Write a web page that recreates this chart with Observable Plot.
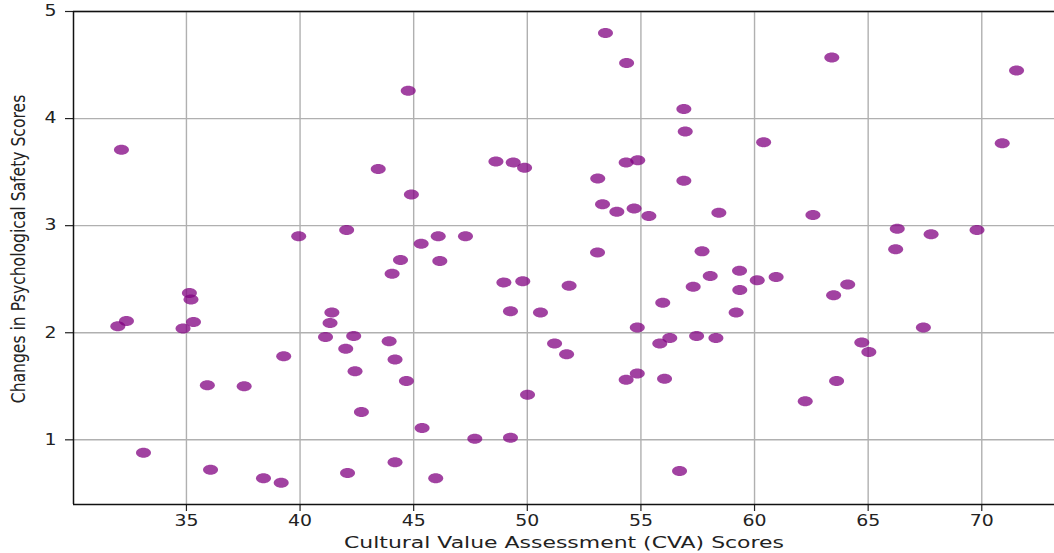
<!DOCTYPE html>
<html>
<head>
<meta charset="utf-8">
<script src="https://cdn.jsdelivr.net/npm/d3@7"></script>
<script src="https://cdn.jsdelivr.net/npm/@observablehq/plot@0.6"></script>
<style>
  html, body { margin: 0; padding: 0; background: #fff; }
  #chart { width: 1054px; height: 553px; overflow: hidden; }
</style>
</head>
<body>
<div id="chart"></div>
<script>
// CVA scores (x) and changes in psychological safety scores (y)
const cvaScores = [
  32.14, 39.94, 42.05, 31.98, 32.36, 35.13, 35.20, 34.85, 35.31, 39.28,
  35.92, 37.54, 33.11, 36.06, 38.39, 39.17, 42.09, 41.40, 41.32, 41.12,
  42.36, 42.01, 42.42, 42.70, 44.05, 48.97, 49.80, 51.84, 49.26, 50.58,
  43.92, 44.18, 44.68, 45.37, 47.69, 49.26, 50.01, 51.20, 51.73, 44.18,
  45.97, 57.30, 58.05, 55.96, 54.84, 55.83, 56.27, 57.45, 58.30, 54.35,
  54.84, 56.04, 56.70, 53.44, 54.37, 44.76, 56.89, 56.95, 43.44, 48.62,
  49.38, 49.88, 54.35, 54.86, 53.10, 56.89, 44.90, 53.31, 53.94, 54.70,
  55.35, 45.33, 46.08, 47.28, 44.42, 46.15, 53.09, 57.69, 63.40, 71.53,
  60.40, 70.90, 58.43, 62.57, 66.28, 67.77, 69.79, 66.21, 59.34, 60.12,
  60.95, 59.35, 64.10, 63.48, 59.19, 67.43, 64.72, 65.03, 63.61, 62.23
];
const safetyChanges = [
  3.71, 2.90, 2.96, 2.06, 2.11, 2.37, 2.31, 2.04, 2.10, 1.78,
  1.51, 1.50, 0.88, 0.72, 0.64, 0.60, 0.69, 2.19, 2.09, 1.96,
  1.97, 1.85, 1.64, 1.26, 2.55, 2.47, 2.48, 2.44, 2.20, 2.19,
  1.92, 1.75, 1.55, 1.11, 1.01, 1.02, 1.42, 1.90, 1.80, 0.79,
  0.64, 2.43, 2.53, 2.28, 2.05, 1.90, 1.95, 1.97, 1.95, 1.56,
  1.62, 1.57, 0.71, 4.80, 4.52, 4.26, 4.09, 3.88, 3.53, 3.60,
  3.59, 3.54, 3.59, 3.61, 3.44, 3.42, 3.29, 3.20, 3.13, 3.16,
  3.09, 2.83, 2.90, 2.90, 2.68, 2.67, 2.75, 2.76, 4.57, 4.45,
  3.78, 3.77, 3.12, 3.10, 2.97, 2.92, 2.96, 2.78, 2.58, 2.49,
  2.52, 2.40, 2.45, 2.35, 2.19, 2.05, 1.91, 1.82, 1.55, 1.36
];
const xTicks = [35, 40, 45, 50, 55, 60, 65, 70];
const yTicks = [1, 2, 3, 4, 5];
const xTitle = "Cultural Value Assessment (CVA) Scores";
const yTitle = "Changes in Psychological Safety Scores";

const points = cvaScores.map((x, i) => ({x, y: safetyChanges[i]}));
const xDomain = [30.03, 73.2];
const yDomain = [0.396, 5.0];

// horizontally stretched marker (ellipse)
const ellipse = {
  draw(ctx, size) {
    const r = Math.sqrt(size / Math.PI);
    const rx = r * 1.5, ry = r, k = 0.5523;
    ctx.moveTo(rx, 0);
    ctx.bezierCurveTo(rx, ry * k, rx * k, ry, 0, ry);
    ctx.bezierCurveTo(-rx * k, ry, -rx, ry * k, -rx, 0);
    ctx.bezierCurveTo(-rx, -ry * k, -rx * k, -ry, 0, -ry);
    ctx.bezierCurveTo(rx * k, -ry, rx, -ry * k, rx, 0);
    ctx.closePath();
  }
};

const plot = Plot.plot({
  width: 1054,
  height: 553,
  marginLeft: 73,
  marginRight: 0,
  marginTop: 11,
  marginBottom: 49,
  style: {fontFamily: "DejaVu Sans", fontSize: "15px", color: "#222", background: "#fff"},
  x: {domain: xDomain},
  y: {domain: yDomain},
  marks: [
    Plot.gridX(xTicks, {stroke: "#b0b0b0", strokeOpacity: 1, strokeWidth: 1.4}),
    Plot.gridY(yTicks, {stroke: "#b0b0b0", strokeOpacity: 1, strokeWidth: 1.4}),
    Plot.axisX(xTicks, {tickSize: 7, tickPadding: 4, fontSize: 15, label: null, tickFormat: d => String(d), stroke: "#222", strokeWidth: 1.2}),
    Plot.axisY(yTicks, {tickSize: 8, tickPadding: 9, fontSize: 15, label: null, tickFormat: d => String(d), stroke: "#222", strokeWidth: 1.2}),
    Plot.dot(points, {x: "x", y: "y", r: 5, symbol: ellipse, fill: "#800080", fillOpacity: 0.74, stroke: "none"}),
    Plot.ruleX([xDomain[0]], {stroke: "#111", strokeWidth: 1.5}),
    Plot.ruleY([yDomain[0], yDomain[1]], {stroke: "#111", strokeWidth: 1.5}),
    Plot.text([xTitle], {frameAnchor: "bottom", dy: 38, lineAnchor: "middle", textAnchor: "middle", fontSize: 16.5, fill: "#222"}),
    Plot.text([yTitle], {frameAnchor: "left", dx: -54, dy: -9, rotate: -90, textAnchor: "middle", lineAnchor: "middle", fontSize: 15.6, fill: "#222"})
  ]
});

// stretch text horizontally to match the reference's aspect
d3.select(plot).selectAll("text").each(function () {
  const t = this.getAttribute("transform") || "";
  const isRot = /rotate/.test(t);
  const title = this.textContent === xTitle;
  const s = isRot ? " scale(1,1.2)" : title ? " scale(1.33,1)" : " scale(1.26,1)";
  this.setAttribute("transform", t + s);
});

document.getElementById("chart").appendChild(plot);
</script>
</body>
</html>
